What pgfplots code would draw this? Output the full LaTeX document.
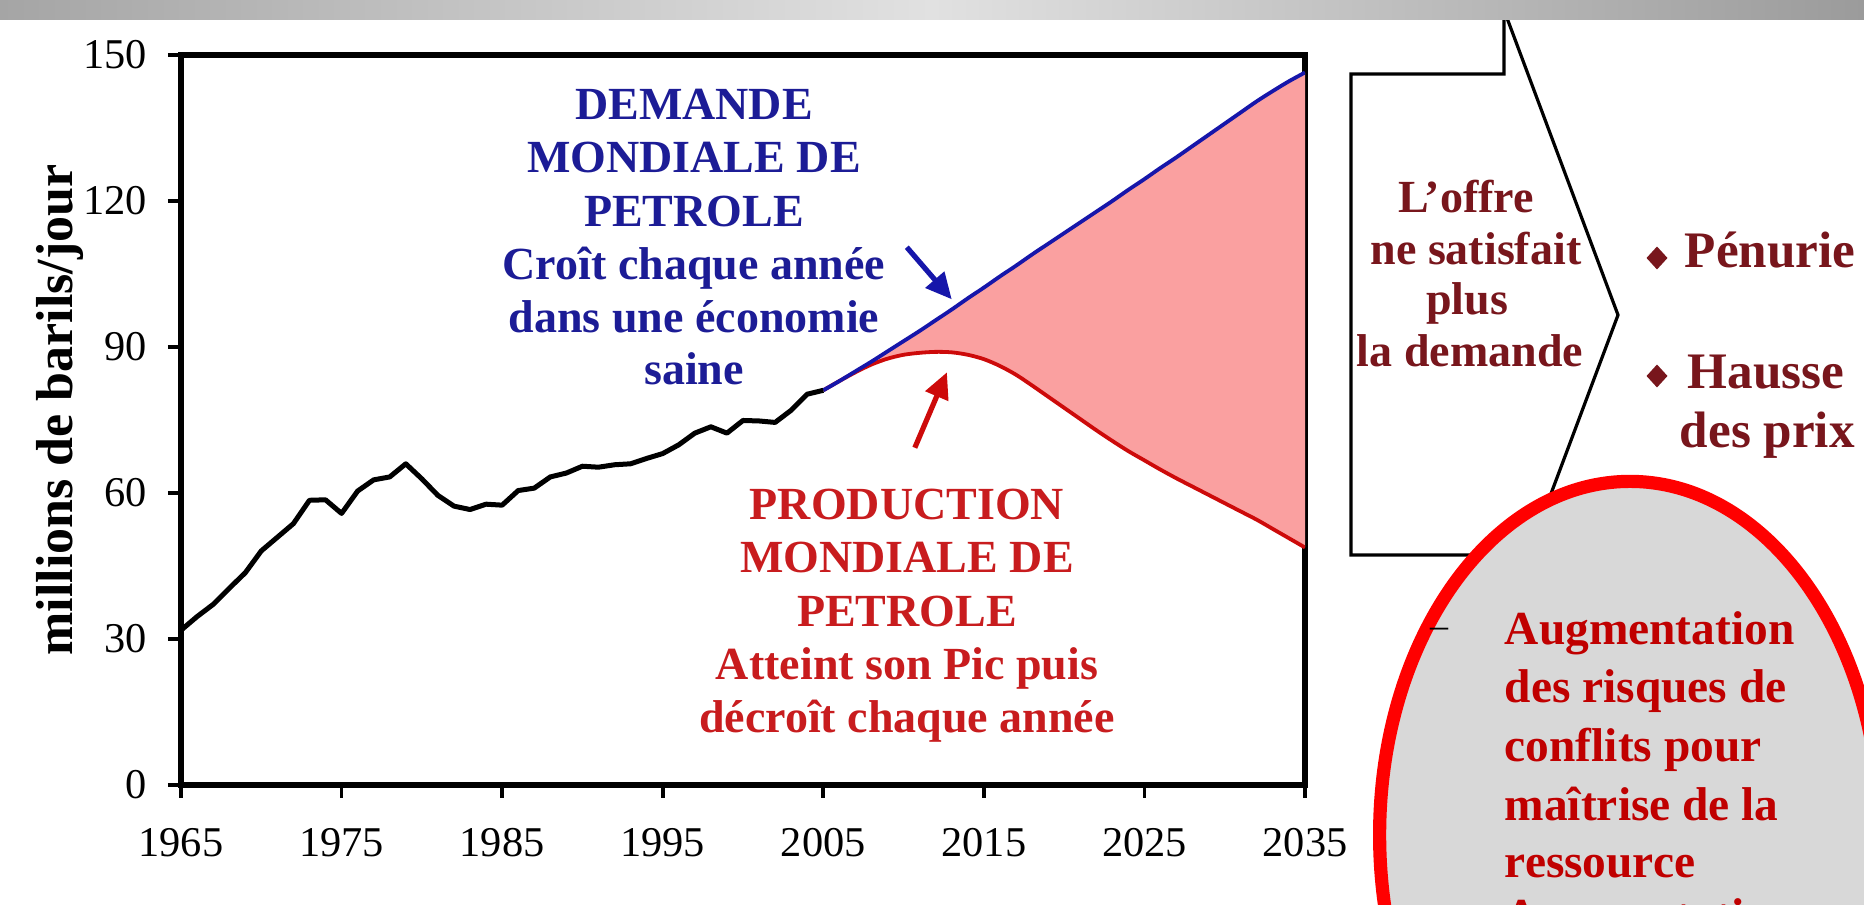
\documentclass[border=0pt]{standalone}
\usepackage{pgfplots}
\pgfplotsset{compat=1.18}
\usepackage{pgfplotstable}
\usetikzlibrary{arrows.meta,shapes.geometric}
\usepackage{fontspec}
\setmainfont{Liberation Serif}

\definecolor{demblue}{RGB}{22,22,170}
\definecolor{demtext}{RGB}{28,28,150}
\definecolor{prodred}{RGB}{205,10,10}
\definecolor{prodtext}{RGB}{200,28,30}
\definecolor{gapfill}{RGB}{250,160,160}
\definecolor{maroonc}{RGB}{120,22,28}
\definecolor{ellred}{RGB}{255,0,0}
\definecolor{elltext}{RGB}{192,0,0}
\definecolor{ellgray}{RGB}{216,216,216}
\definecolor{bannerL}{RGB}{165,165,165}
\definecolor{bannerM}{RGB}{225,225,225}
\definecolor{bannerR}{RGB}{155,155,155}

\pgfplotstableread{
year value
1965 31.8
1966 34.6
1967 37.1
1968 40.4
1969 43.6
1970 48.1
1971 50.9
1972 53.7
1973 58.5
1974 58.6
1975 55.8
1976 60.4
1977 62.7
1978 63.3
1979 66.0
1980 62.9
1981 59.5
1982 57.3
1983 56.6
1984 57.7
1985 57.5
1986 60.5
1987 61.0
1988 63.3
1989 64.1
1990 65.5
1991 65.3
1992 65.8
1993 66.0
1994 67.1
1995 68.1
1996 69.9
1997 72.3
1998 73.6
1999 72.3
2000 74.9
2001 74.8
2002 74.5
2003 77.0
2004 80.3
2005 81.1
}\histdata

\pgfplotstableread{
year value
2005 81.1
2006 83.0
2007 85.0
2008 87.0
2009 89.1
2010 91.2
2011 93.3
2012 95.5
2013 97.7
2014 100.0
2015 102.2
2016 104.5
2017 106.7
2018 109.0
2019 111.2
2020 113.4
2021 115.6
2022 117.8
2023 120.0
2024 122.3
2025 124.5
2026 126.8
2027 129.0
2028 131.3
2029 133.6
2030 135.9
2031 138.2
2032 140.5
2033 142.6
2034 144.6
2035 146.4
}\demdata

\pgfplotstableread{
year value
2005 81.1
2006 83.0
2007 84.8
2008 86.4
2009 87.6
2010 88.4
2011 88.8
2012 89.0
2013 88.9
2014 88.4
2015 87.5
2016 86.1
2017 84.3
2018 82.1
2019 79.8
2020 77.5
2021 75.2
2022 72.9
2023 70.7
2024 68.6
2025 66.7
2026 64.8
2027 63.0
2028 61.3
2029 59.6
2030 57.9
2031 56.2
2032 54.5
2033 52.6
2034 50.7
2035 48.8
}\proddata

% gap between demand (forward) and production (backward)
\pgfplotstableread{
year value
2005 81.1
2006 83.0
2007 85.0
2008 87.0
2009 89.1
2010 91.2
2011 93.3
2012 95.5
2013 97.7
2014 100.0
2015 102.2
2016 104.5
2017 106.7
2018 109.0
2019 111.2
2020 113.4
2021 115.6
2022 117.8
2023 120.0
2024 122.3
2025 124.5
2026 126.8
2027 129.0
2028 131.3
2029 133.6
2030 135.9
2031 138.2
2032 140.5
2033 142.6
2034 144.6
2035 146.4
2035 48.8
2034 50.7
2033 52.6
2032 54.5
2031 56.2
2030 57.9
2029 59.6
2028 61.3
2027 63.0
2026 64.8
2025 66.7
2024 68.6
2023 70.7
2022 72.9
2021 75.2
2020 77.5
2019 79.8
2018 82.1
2017 84.3
2016 86.1
2015 87.5
2014 88.4
2013 88.9
2012 89.0
2011 88.8
2010 88.4
2009 87.6
2008 86.4
2007 84.8
2006 83.0
2005 81.1
}\gapdata

\newcommand\annfont{\bfseries\fontsize{11.5}{13.3}\selectfont}
\newcommand\bulfont{\bfseries\fontsize{12.8}{14.6}\selectfont}
\newcommand\ellfont{\bfseries\fontsize{11.85}{14.6}\selectfont}

\begin{document}
\begin{tikzpicture}
\clip (0,0) rectangle (466pt,-226.25pt);
\fill[white] (0,0) rectangle (466pt,-226.25pt);

\begin{axis}[
  at={(45.25pt,-196.25pt)}, anchor=south west,
  scale only axis, width=281pt, height=182.5pt,
  xmin=1965, xmax=2035, ymin=0, ymax=150,
  xtick={1965,1975,...,2035}, ytick={0,30,...,150},
  tick pos=left,
  tick align=outside,
  major tick length=3.25pt,
  axis line style={line width=1.3pt},
  major tick style={black, line width=0.9pt},
  /pgf/number format/assume math mode=true,
  x tick label style={/pgf/number format/1000 sep={}, font=\fontsize{10.6}{12}\selectfont, yshift=-4pt},
  y tick label style={font=\fontsize{10.6}{12}\selectfont, xshift=-1.8pt},
]
\addplot[fill=gapfill, draw=none] table[x=year,y=value] {\gapdata} -- cycle;
\addplot[prodred, line width=0.95pt, smooth] table[x=year,y=value] {\proddata};
\addplot[demblue, line width=0.95pt, smooth] table[x=year,y=value] {\demdata};
\addplot[black, line width=1.25pt, line join=round] table[x=year,y=value] {\histdata};
\draw[demblue, line width=1.3pt, -{Triangle[length=6.5pt,width=6pt]}] (axis cs:2010.2,110.5) -- (axis cs:2013.0,99.8);
\draw[prodred, line width=1.3pt, -{Triangle[length=6.5pt,width=6pt]}] (axis cs:2010.7,69.3) -- (axis cs:2012.7,84.8);
\end{axis}

\begin{scope}[x=0.25pt, y=-0.25pt]
% y label
\node[rotate=90, font=\bfseries\fontsize{13}{15}\selectfont] at (60,410) {millions de barils/jour};

% demand annotation
\begin{scope}[every node/.style={anchor=base, text=demtext, font=\annfont, inner sep=0pt}]
\node at (694,120) {DEMANDE};
\node at (694,173) {MONDIALE DE};
\node at (694,227) {PETROLE};
\node at (694,280) {Croît chaque année};
\node at (694,333) {dans une économie};
\node at (694,385) {saine};
\end{scope}

% production annotation
\begin{scope}[every node/.style={anchor=base, text=prodtext, font=\annfont, inner sep=0pt}]
\node at (907,520) {PRODUCTION};
\node at (907,573) {MONDIALE DE};
\node at (907,627) {PETROLE};
\node at (907,680) {Atteint son Pic puis};
\node at (907,733) {décroît chaque année};
\end{scope}

% arrow-shaped box
\draw[line width=0.8pt, fill=white, line join=miter] (1504,10) -- (1504,74) -- (1351,74) -- (1351,555) -- (1528,555) -- (1618,315) -- cycle;
\begin{scope}[every node/.style={anchor=base, text=maroonc, font=\annfont, inner sep=0pt}]
\node at (1466,213) {L’offre};
\node at (1476,265) {ne satisfait};
\node at (1467,315) {plus};
\node at (1470,367) {la demande};
\end{scope}

% bullets
\node[diamond, fill=maroonc, inner sep=0pt, minimum width=5.4pt, minimum height=5.9pt] at (1657,258) {};
\node[diamond, fill=maroonc, inner sep=0pt, minimum width=5.4pt, minimum height=5.9pt] at (1657,376) {};
\begin{scope}[every node/.style={anchor=base west, text=maroonc, font=\bulfont, inner sep=0pt}]
\node at (1684,268) {Pénurie};
\node at (1687,389) {Hausse};
\node at (1679,448) {des prix};
\end{scope}

% ellipse
\draw[ellred, line width=3.3pt, fill=ellgray] (1630,835) ellipse [x radius=62.6pt, y radius=88.4pt];
\node[font=\fontsize{9}{10}\selectfont, inner sep=0pt] at (1439,633) {–};
\begin{scope}[every node/.style={anchor=base west, text=elltext, font=\ellfont, inner sep=0pt}]
\node at (1504,645) {Augmentation};
\node at (1504,703) {des risques de};
\node at (1504,762) {conflits pour};
\node at (1504,821) {maîtrise de la};
\node at (1504,878) {ressource};
\node at (1504,932) {Augmentation};
\end{scope}

% top banner
\shade[left color=bannerL, right color=bannerR, middle color=bannerM] (0,0) rectangle (1864,20);
\end{scope}
\end{tikzpicture}
\end{document}
